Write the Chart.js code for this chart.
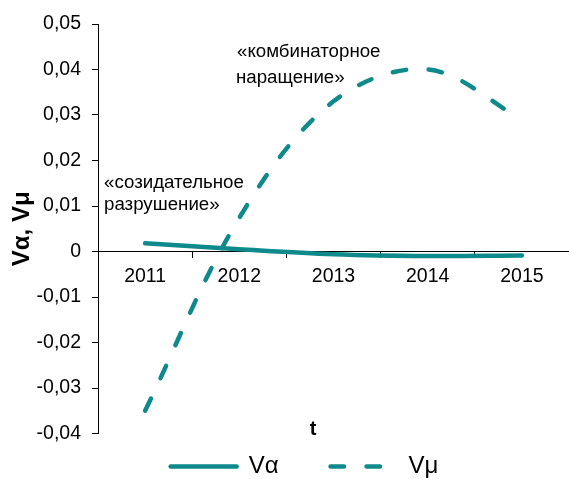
<!DOCTYPE html>
<html>
<head>
<meta charset="utf-8">
<script src="https://cdn.jsdelivr.net/npm/chart.js@4"></script>
<style>
  html, body { margin: 0; padding: 0; background: #fff; }
  #wrap { width: 569px; height: 479px; }
</style>
</head>
<body>
<div id="wrap"><canvas id="lineChart"></canvas></div>
<script>
const years = ["2011", "2012", "2013", "2014", "2015"];
const vAlpha = [0.0018, 0.0005, -0.0006, -0.001, -0.0009];
const vMu = [-0.035, 0.0074, 0.033, 0.040, 0.029];
const yMin = -0.04;
const yMax = 0.05;
const yStep = 0.01;

const teal = "#0E8A8C";
const FONT = "'Liberation Sans', Arial, sans-serif";

// text notes on the plot
const notes = [
  { text: "«созидательное", x: 104, y: 188 },
  { text: "разрушение»", x: 104, y: 210 },
  { text: "«комбинаторное", x: 237, y: 57 },
  { text: "наращение»", x: 236, y: 83 },
];

const notesPlugin = {
  id: "notes",
  afterDraw(chart) {
    const ctx = chart.ctx;
    ctx.save();
    ctx.fillStyle = "#000";
    ctx.textBaseline = "alphabetic";
    ctx.textAlign = "left";
    ctx.font = "18.7px " + FONT;
    notes.forEach((n) => ctx.fillText(n.text, n.x, n.y));
    ctx.font = "bold 20px " + FONT;
    ctx.textAlign = "center";
    ctx.fillText("t", 313, 435);
    ctx.restore();
  },
};

// legend: keep the plot tall, push the row down near the bottom edge
const legendPlace = {
  id: "legendPlace",
  beforeInit(chart) {
    const lg = chart.legend;
    if (!lg) return;
    const fit = lg.fit;
    lg.fit = function () {
      fit.call(this);
      this.height = 45.5;
    };
  },
  afterLayout(chart) {
    const lg = chart.legend;
    if (!lg) return;
    lg.top = 402.5;
    lg.bottom = 479;
    lg.left += 20;
    lg.right += 20;
  },
};

Chart.defaults.font.family = FONT;
Chart.defaults.color = "#000";

const ctxL = document.getElementById("lineChart").getContext("2d");
const myLineChart = new Chart(ctxL, {
  type: "line",
  data: {
    labels: years,
    datasets: [
      {
        label: "Vα",
        data: vAlpha,
        borderColor: teal,
        backgroundColor: teal,
        borderWidth: 4.5,
        borderCapStyle: "round",
        pointRadius: 0,
        tension: 0.35,
        fill: false,
      },
      {
        label: "Vμ",
        data: vMu,
        borderColor: teal,
        backgroundColor: teal,
        borderWidth: 4.5,
        borderCapStyle: "round",
        borderDash: [13.5, 22.5],
        pointRadius: 0,
        tension: 0.35,
        fill: false,
      },
    ],
  },
  options: {
    responsive: true,
    maintainAspectRatio: false,
    animation: false,
    layout: { padding: { top: 24, right: 0, bottom: 0, left: 0 } },
    plugins: {
      tooltip: { enabled: false },
      legend: {
        position: "bottom",
        labels: {
          usePointStyle: true,
          pointStyle: "line",
          pointStyleWidth: 66,
          padding: 52,
          color: "#000",
          font: { size: 24 },
          generateLabels(chart) {
            const items = Chart.defaults.plugins.legend.labels.generateLabels(chart);
            items.forEach((it) => {
              const ds = chart.data.datasets[it.datasetIndex];
              it.lineDash = ds.borderDash || [];
              it.lineCap = "round";
              it.lineWidth = ds.borderWidth;
              it.strokeStyle = ds.borderColor;
            });
            return items;
          },
        },
      },
    },
    scales: {
      x: {
        position: { y: 0 },
        offset: true,
        ticks: {
          color: "#000",
          font: { size: 19.5 },
          padding: 7,
          maxRotation: 0,
          autoSkip: false,
        },
        grid: {
          offset: true,
          drawOnChartArea: false,
          drawTicks: true,
          tickLength: 6,
          color: "#000",
        },
        border: { color: "#000", width: 1 },
      },
      y: {
        min: yMin,
        max: yMax,
        afterFit(scale) {
          scale.width = 98;
        },
        ticks: {
          stepSize: yStep,
          color: "#000",
          font: { size: 19.5 },
          padding: 11,
          callback: (v) => (Math.abs(v) < 1e-9 ? "0" : v.toFixed(2).replace(".", ",")),
        },
        grid: {
          drawOnChartArea: false,
          drawTicks: true,
          tickLength: 6,
          color: "#000",
        },
        border: { color: "#000", width: 1 },
        title: {
          display: true,
          text: "Vα, Vμ",
          color: "#000",
          font: { size: 24, weight: "bold" },
          padding: { top: 8, bottom: 0 },
        },
      },
    },
  },
  plugins: [notesPlugin, legendPlace],
});
</script>
</body>
</html>
